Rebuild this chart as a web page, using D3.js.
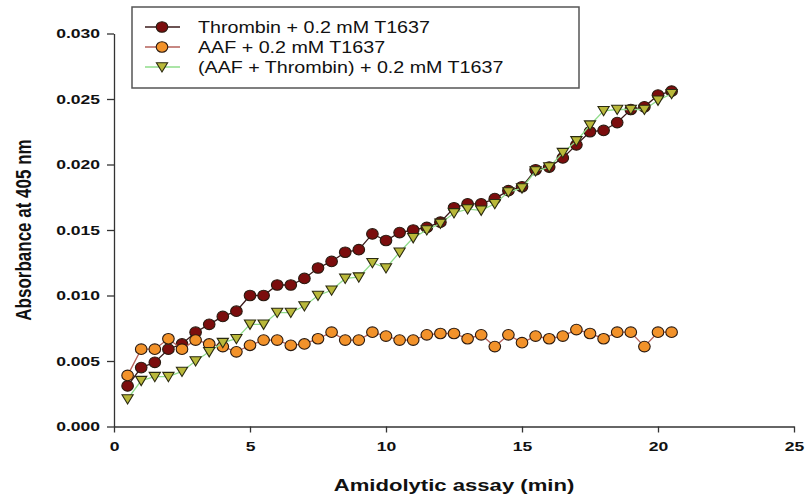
<!DOCTYPE html>
<html>
<head>
<meta charset="utf-8">
<script src="https://cdn.jsdelivr.net/npm/d3@7"></script>
<style>
  body { margin: 0; background: #fff; }
  svg { display: block; }
  text { font-family: "Liberation Sans", Arial, sans-serif; }
</style>
</head>
<body>
<div id="chart"></div>
<script>
// time points (min)
const times = [0.5, 1, 1.5, 2, 2.5, 3, 3.5, 4, 4.5, 5, 5.5, 6, 6.5, 7, 7.5, 8, 8.5, 9, 9.5, 10,
  10.5, 11, 11.5, 12, 12.5, 13, 13.5, 14, 14.5, 15, 15.5, 16, 16.5, 17, 17.5, 18, 18.5, 19, 19.5, 20, 20.5];

const thrombin = [0.0031, 0.0045, 0.0049, 0.0059, 0.0063, 0.0072, 0.0078, 0.0084, 0.0088, 0.0100,
  0.0100, 0.0108, 0.0108, 0.0113, 0.0121, 0.0126, 0.0133, 0.0135, 0.0147, 0.0142,
  0.0148, 0.0150, 0.0152, 0.0156, 0.0167, 0.0170, 0.0170, 0.0174, 0.0180, 0.0183,
  0.0196, 0.0198, 0.0205, 0.0215, 0.0225, 0.0226, 0.0232, 0.0242, 0.0244, 0.0253, 0.0256];

const aaf = [0.0039, 0.0059, 0.0059, 0.0067, 0.0059, 0.0066, 0.0063, 0.0061, 0.0057, 0.0062,
  0.0066, 0.0066, 0.0062, 0.0063, 0.0067, 0.0072, 0.0066, 0.0066, 0.0072, 0.0069,
  0.0066, 0.0066, 0.0070, 0.0071, 0.0071, 0.0067, 0.0070, 0.0061, 0.0070, 0.0064,
  0.0069, 0.0067, 0.0069, 0.0074, 0.0071, 0.0067, 0.0072, 0.0072, 0.0061, 0.0072, 0.0072];

const aafThrombin = [0.0021, 0.0035, 0.0038, 0.0038, 0.0042, 0.0050, 0.0057, 0.0064, 0.0067, 0.0078,
  0.0078, 0.0087, 0.0087, 0.0092, 0.0100, 0.0104, 0.0113, 0.0114, 0.0125, 0.0121,
  0.0133, 0.0144, 0.0150, 0.0155, 0.0163, 0.0166, 0.0165, 0.0170, 0.0179, 0.0182,
  0.0195, 0.0198, 0.0209, 0.0218, 0.0230, 0.0241, 0.0242, 0.0242, 0.0242, 0.0249, 0.0254];

const seriesNames = ["Thrombin + 0.2 mM T1637", "AAF + 0.2 mM T1637", "(AAF + Thrombin) + 0.2 mM T1637"];
const xTicks = [0, 5, 10, 15, 20, 25];
const yTicks = [0, 0.005, 0.010, 0.015, 0.020, 0.025, 0.030];

const W = 806, H = 495;
const stretch = 1.3; // source picture is widened horizontally

const svg = d3.select("#chart").append("svg")
  .attr("width", W).attr("height", H);

const x = d3.scaleLinear().domain([0, 25]).range([114, 794]);
const y = d3.scaleLinear().domain([0, 0.03]).range([426.5, 33.5]);

// axes
const gx = svg.append("g")
  .attr("transform", `translate(0,${y(0)})`)
  .call(d3.axisBottom(x).tickValues(xTicks).tickSizeInner(6).tickSizeOuter(0).tickPadding(9));
const gy = svg.append("g")
  .attr("transform", `translate(${x(0)},0)`)
  .call(d3.axisLeft(y).tickValues(yTicks).tickFormat(d3.format(".3f")).tickSizeInner(7).tickSizeOuter(0).tickPadding(7));

[gx, gy].forEach(g => {
  g.select(".domain").attr("stroke", "#333").attr("stroke-width", 1.3);
  g.selectAll(".tick line").attr("stroke", "#333").attr("stroke-width", 1.3);
  g.selectAll(".tick text")
    .attr("fill", "#111")
    .style("font-size", "13.5px")
    .style("font-weight", "bold");
});
gx.selectAll(".tick text").attr("transform", `scale(${stretch},1)`);
gy.selectAll(".tick text")
  .attr("x", -14 / stretch)
  .attr("transform", `scale(${stretch},1)`);

// axis titles
svg.append("text")
  .attr("transform", `translate(${(x(0) + x(25)) / 2},491) scale(${stretch},1)`)
  .attr("text-anchor", "middle")
  .style("font-size", "17px").style("font-weight", "bold").attr("fill", "#111")
  .text("Amidolytic assay (min)");

svg.append("text")
  .attr("transform", `translate(31,${(y(0) + y(0.03)) / 2}) scale(${stretch},1) rotate(-90)`)
  .attr("text-anchor", "middle")
  .style("font-size", "17px").style("font-weight", "bold").attr("fill", "#111")
  .text("Absorbance at 405 nm");

// series definitions
const series = [
  { name: seriesNames[0], values: thrombin, line: "#3a1a1a", fill: "#7b0d0d", shape: "circle" },
  { name: seriesNames[1], values: aaf, line: "#b5605a", fill: "#f2922a", shape: "circle" },
  { name: seriesNames[2], values: aafThrombin, line: "#8fdc8a", fill: "#b9b83a", shape: "tri" }
];

const triPath = "M-5.6,-4.3L5.6,-4.3L0,5Z";

const line = d3.line()
  .x((d, i) => x(times[i]))
  .y(d => y(d));

function drawMarker(g, shape, fill) {
  if (shape === "circle") {
    g.append("ellipse").attr("rx", 5.8).attr("ry", 5.3)
      .attr("fill", fill).attr("stroke", "#2a1a10").attr("stroke-width", 1.1);
  } else {
    g.append("path").attr("d", triPath)
      .attr("fill", fill).attr("stroke", "#2a2a10").attr("stroke-width", 1.1);
  }
}

series.forEach(s => {
  svg.append("path")
    .datum(s.values)
    .attr("fill", "none")
    .attr("stroke", s.line)
    .attr("stroke-width", 1.3)
    .attr("d", line);
  svg.append("g").selectAll("g")
    .data(s.values)
    .join("g")
    .attr("transform", (d, i) => `translate(${x(times[i])},${y(d)})`)
    .each(function () { drawMarker(d3.select(this), s.shape, s.fill); });
});

// legend
const legend = svg.append("g");
legend.append("rect")
  .attr("x", 132).attr("y", 7).attr("width", 447).attr("height", 81)
  .attr("fill", "#fff").attr("stroke", "#555").attr("stroke-width", 1.5);

series.forEach((s, i) => {
  const ly = 27 + i * 20;
  legend.append("line")
    .attr("x1", 145).attr("x2", 180).attr("y1", ly).attr("y2", ly)
    .attr("stroke", s.line).attr("stroke-width", 1.3);
  const m = legend.append("g").attr("transform", `translate(162,${ly})`);
  drawMarker(m, s.shape, s.fill);
  legend.append("text")
    .attr("transform", `translate(198,${ly + 6}) scale(1.23,1)`)
    .style("font-size", "16px").attr("fill", "#111")
    .text(s.name);
});
</script>
</body>
</html>
